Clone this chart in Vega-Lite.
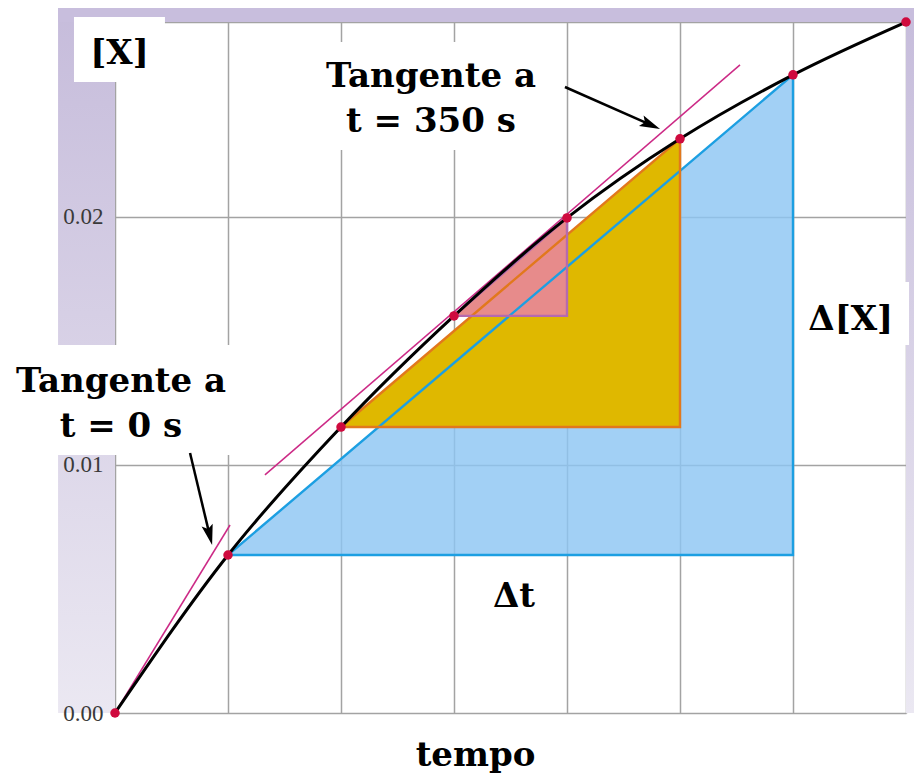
{
  "$schema": "https://vega.github.io/schema/vega-lite/v6.json",
  "width": 791,
  "height": 691,
  "autosize": {"type": "none"},
  "padding": {"left": 115, "top": 22, "right": 8, "bottom": 61},
  "background": "white",
  "config": {"view": {"stroke": null, "fill": "white"}},
  "datasets": {
    "conc": [
      {"t": 0, "v": 0},
      {"t": 100, "v": 0.00637},
      {"t": 200, "v": 0.01153},
      {"t": 300, "v": 0.01601},
      {"t": 400, "v": 0.01996},
      {"t": 500, "v": 0.02315},
      {"t": 600, "v": 0.02573},
      {"t": 700, "v": 0.02786}
    ],
    "triangles": [
      {"tri": "dt500", "t": 100, "v": 0.00637, "base": 0.00637},
      {"tri": "dt500", "t": 600, "v": 0.02573, "base": 0.00637},
      {"tri": "dt300", "t": 200, "v": 0.01153, "base": 0.01153},
      {"tri": "dt300", "t": 500, "v": 0.02315, "base": 0.01153},
      {"tri": "dt100", "t": 300, "v": 0.01601, "base": 0.01601},
      {"tri": "dt100", "t": 400, "v": 0.01996, "base": 0.01601}
    ],
    "tangents": [
      {"at": "t0", "t": 0, "v": 0},
      {"at": "t0", "t": 101.8, "v": 0.00758},
      {"at": "t350", "t": 132.7, "v": 0.0096},
      {"at": "t350", "t": 553.1, "v": 0.02613}
    ],
    "arrows": [
      {"t1": 66.4, "v1": 0.01048, "t2": 83.5, "v2": 0.007221},
      {"t1": 398.2, "v1": 0.02524, "t2": 473.1, "v2": 0.023732}
    ],
    "boxes": [
      {"t1": -36.3, "t2": 44.2, "v1": 0.02544, "v2": 0.02806},
      {"t1": -101.8, "t2": 110.6, "v1": 0.010402, "v2": 0.014838},
      {"t1": 179.6, "t2": 392.0, "v1": 0.0227, "v2": 0.027054},
      {"t1": 601.8, "t2": 702.7, "v1": 0.014838, "v2": 0.017378}
    ],
    "notes": [
      {"label": "[X]", "t": 4.0, "v": 0.026167},
      {"label": "Tangente a\nt = 0 s", "t": 5.3, "v": 0.012943},
      {"label": "Tangente a\nt = 350 s", "t": 279.6, "v": 0.02524},
      {"label": "Δ[X]", "t": 651.1, "v": 0.015442},
      {"label": "Δt", "t": 353.1, "v": 0.004274}
    ]
  },
  "resolve": {"axis": {"x": "independent", "y": "independent"}},
  "layer": [
    {
      "data": {"values": [{}]},
      "layer": [
        {
          "mark": {
            "type": "rect",
            "fill": {
              "gradient": "linear", "x1": 0, "y1": 1, "x2": 0, "y2": 0,
              "stops": [{"offset": 0, "color": "#ebe8f2"}, {"offset": 1, "color": "#c6bcdb"}]
            }
          },
          "encoding": {
            "x": {"datum": -50.4, "type": "quantitative", "scale": {"domain": [0, 700], "nice": false, "zero": false}, "axis": null},
            "x2": {"datum": 0},
            "y": {
              "datum": 0, "type": "quantitative",
              "scale": {"domain": [0, 0.02786], "nice": false, "zero": false},
              "axis": {
                "orient": "left", "title": null, "values": [0, 0.01, 0.02], "format": ".2f",
                "grid": false, "domain": false, "ticks": false, "tickSize": 0, "labelPadding": 12,
                "labelFont": "Liberation Serif", "labelFontSize": 23, "labelColor": "#3a3a3a", "zindex": 1
              }
            },
            "y2": {"datum": 0.028427}
          }
        },
        {
          "mark": {
            "type": "rect",
            "fill": {
              "gradient": "linear", "x1": 0, "y1": 1, "x2": 0, "y2": 0,
              "stops": [{"offset": 0, "color": "#ebe8f2"}, {"offset": 1, "color": "#c6bcdb"}]
            }
          },
          "encoding": {
            "x": {"datum": 700, "type": "quantitative"},
            "x2": {"datum": 707.1},
            "y": {"datum": 0, "type": "quantitative"},
            "y2": {"datum": 0.028427}
          }
        },
        {
          "mark": {"type": "rect", "fill": "#c8bedd"},
          "encoding": {
            "x": {"datum": -50.4, "type": "quantitative"},
            "x2": {"datum": 707.1},
            "y": {"datum": 0.02786, "type": "quantitative"},
            "y2": {"datum": 0.028427}
          }
        }
      ]
    },
    {
      "layer": [
        {
          "data": {"name": "boxes"},
          "mark": {"type": "rect", "fill": "white"},
          "encoding": {
            "x": {
              "field": "t1", "type": "quantitative",
              "axis": {
                "orient": "bottom", "values": [0, 100, 200, 300, 400, 500, 600, 700],
                "grid": true, "gridColor": "#a3a3a3", "gridWidth": 1.5, "gridOpacity": 1,
                "labels": false, "ticks": false, "domain": false,
                "title": "tempo", "titleFont": "DejaVu Serif", "titleFontWeight": "bold",
                "titleFontSize": 34, "titleColor": "black", "titleX": 360, "titleY": 52,
                "titleBaseline": "alphabetic"
              }
            },
            "x2": {"field": "t2"},
            "y": {
              "field": "v1", "type": "quantitative",
              "axis": {
                "orient": "left", "title": null, "values": [0, 0.01, 0.02, 0.02786],
                "grid": true, "gridColor": "#a3a3a3", "gridWidth": 1.5, "gridOpacity": 1,
                "labels": false, "ticks": false, "domain": false
              }
            },
            "y2": {"field": "v2"}
          }
        },
        {
          "data": {"name": "triangles"},
          "transform": [{"filter": "datum.tri === 'dt500'"}],
          "mark": {"type": "area", "fill": "#8ec6f3", "fillOpacity": 0.82},
          "encoding": {
            "x": {"field": "t", "type": "quantitative"},
            "y": {"field": "v", "type": "quantitative"},
            "y2": {"field": "base"}
          }
        },
        {
          "data": {"name": "triangles"},
          "transform": [{"filter": "datum.tri === 'dt300'"}],
          "mark": {"type": "area", "fill": "#dfb800"},
          "encoding": {
            "x": {"field": "t", "type": "quantitative"},
            "y": {"field": "v", "type": "quantitative"},
            "y2": {"field": "base"}
          }
        },
        {
          "data": {"name": "triangles"},
          "transform": [{"filter": "datum.tri === 'dt100'"}],
          "mark": {"type": "area", "fill": "#e78b8b"},
          "encoding": {
            "x": {"field": "t", "type": "quantitative"},
            "y": {"field": "v", "type": "quantitative"},
            "y2": {"field": "base"}
          }
        },
        {
          "data": {"name": "triangles"},
          "mark": {"type": "area", "fillOpacity": 0, "strokeWidth": 2.4},
          "encoding": {
            "x": {"field": "t", "type": "quantitative"},
            "y": {"field": "v", "type": "quantitative"},
            "y2": {"field": "base"},
            "stroke": {
              "field": "tri", "type": "nominal", "legend": null,
              "scale": {"domain": ["dt500", "dt300", "dt100"], "range": ["#1c9fe2", "#e2781c", "#b56aae"]}
            }
          }
        },
        {
          "data": {"name": "tangents"},
          "mark": {"type": "line", "color": "#cc2a86", "strokeWidth": 1.5},
          "encoding": {
            "x": {"field": "t", "type": "quantitative"},
            "y": {"field": "v", "type": "quantitative"},
            "detail": {"field": "at"}
          }
        },
        {
          "data": {"name": "conc"},
          "mark": {"type": "line", "color": "black", "strokeWidth": 3, "interpolate": "monotone"},
          "encoding": {
            "x": {"field": "t", "type": "quantitative"},
            "y": {"field": "v", "type": "quantitative"}
          }
        },
        {
          "data": {"name": "conc"},
          "mark": {"type": "point", "filled": true, "color": "#cf0a3e", "opacity": 1, "size": 90},
          "encoding": {
            "x": {"field": "t", "type": "quantitative"},
            "y": {"field": "v", "type": "quantitative"}
          }
        },
        {
          "data": {"name": "arrows"},
          "mark": {"type": "rule", "color": "black", "strokeWidth": 2.5},
          "encoding": {
            "x": {"field": "t1", "type": "quantitative"},
            "y": {"field": "v1", "type": "quantitative"},
            "x2": {"field": "t2"},
            "y2": {"field": "v2"}
          }
        },
        {
          "data": {"values": [{}]},
          "mark": {"type": "point", "shape": "M0,-1L0.5,0.8L0,0.45L-0.5,0.8Z", "filled": true, "color": "black", "opacity": 1, "size": 520, "angle": 166},
          "encoding": {
            "x": {"datum": 83.5, "type": "quantitative"},
            "y": {"datum": 0.007221, "type": "quantitative"}
          }
        },
        {
          "data": {"values": [{}]},
          "mark": {"type": "point", "shape": "M0,-1L0.5,0.8L0,0.45L-0.5,0.8Z", "filled": true, "color": "black", "opacity": 1, "size": 520, "angle": 114},
          "encoding": {
            "x": {"datum": 473.1, "type": "quantitative"},
            "y": {"datum": 0.023732, "type": "quantitative"}
          }
        },
        {
          "data": {"name": "notes"},
          "mark": {
            "type": "text", "font": "DejaVu Serif", "fontWeight": "bold", "fontSize": 34,
            "color": "black", "align": "center", "baseline": "alphabetic",
            "lineBreak": "\n", "lineHeight": 45
          },
          "encoding": {
            "x": {"field": "t", "type": "quantitative"},
            "y": {"field": "v", "type": "quantitative"},
            "text": {"field": "label"}
          }
        }
      ]
    }
  ]
}
